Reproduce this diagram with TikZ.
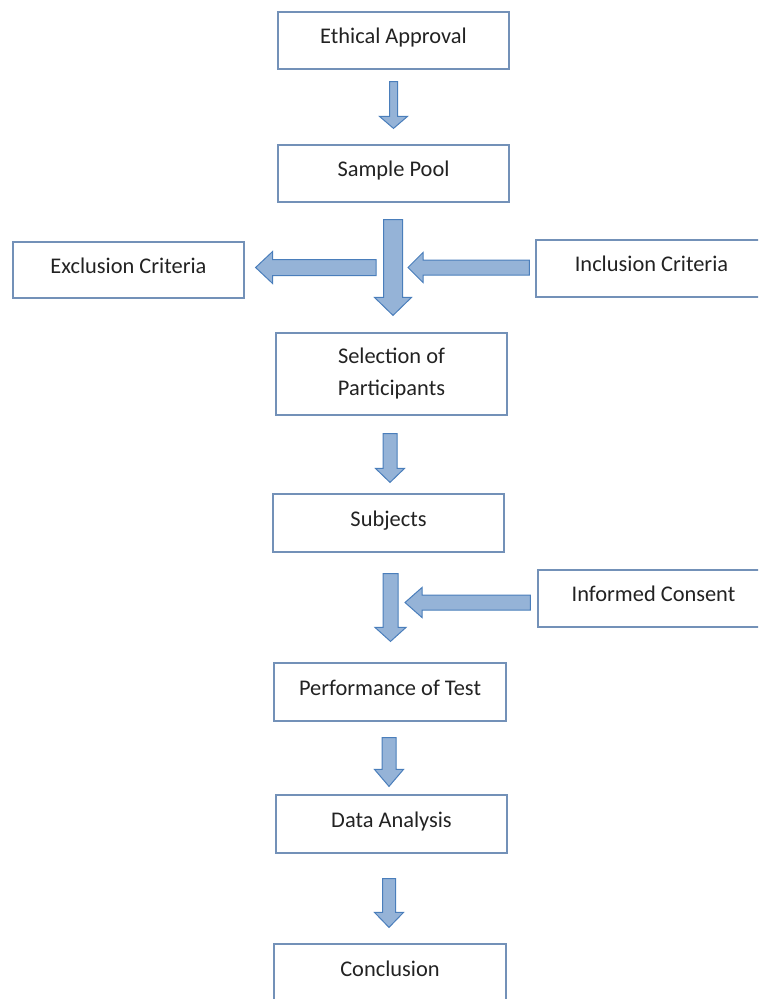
\documentclass[tikz,border=0pt]{standalone}
\usepackage{fontspec}
\setmainfont{Carlito}
\usetikzlibrary{calc}

\definecolor{boxline}{HTML}{7391B8}
\definecolor{arrfill}{HTML}{95B3D7}
\definecolor{arrline}{HTML}{4A7EBB}
\definecolor{txt}{HTML}{222222}

% fat arrow: start, tip, half shaft, half head, head length
\newcommand{\blockarr}[5]{%
  \coordinate (hb) at ($(#2)!#5!(#1)$);
  \draw[blk] ($(#1)!#3!90:(#2)$) -- ($(hb)!#3!90:(#2)$) -- ($(hb)!#4!90:(#2)$)
    -- (#2) -- ($(hb)!#4!-90:(#2)$) -- ($(hb)!#3!-90:(#2)$)
    -- ($(#1)!#3!-90:(#2)$) -- cycle;
}

\begin{document}
\begin{tikzpicture}[x=1pt,y=-1pt,
  box/.style={draw=boxline, line width=1.2pt, minimum width=231pt,
    minimum height=57pt, inner sep=0pt, text=txt,
    font=\fontsize{22.4}{32}\selectfont},
  onebox/.style={box, text height=15pt, text depth=9pt},
  blk/.style={fill=arrfill, draw=arrline, line width=1pt, line join=miter}]
\useasboundingbox (0,0) rectangle (758,999);
\clip (0,0) rectangle (758,999);

\node[onebox] (ea) at (393.5,40.5) {Ethical Approval};
\node[onebox] (sp) at (393.5,173.5) {Sample Pool};
\node[onebox, minimum height=56pt] (ex) at (128.5,270) {Exclusion Criteria};
\node[onebox] (in) at (651.5,268.5) {Inclusion Criteria};
\node[box, minimum height=82pt, align=center] (sel) at (391.5,374)
  {Selection of\\Participants};
\node[onebox, minimum height=58pt] (sub) at (388.5,523) {Subjects};
\node[onebox] (ic) at (653.5,598.5) {Informed Consent};
\node[onebox, minimum height=58pt, minimum width=232pt] (pt) at (390,692)
  {Performance of Test};
\node[onebox, minimum height=58pt] (da) at (391.5,824) {Data Analysis};
\node[onebox, minimum height=58pt, minimum width=232pt] (co) at (390,973)
  {Conclusion};

% arrows between the boxes
\coordinate (a1s) at ($(ea.south)+(0,12)$);
\coordinate (a1e) at ($(a1s |- sp.north)+(0,-16)$);
\blockarr{a1s}{a1e}{4pt}{14pt}{12pt}

\coordinate (a2s) at ($(sp.south)+(-0.5,17)$);
\coordinate (a2e) at ($(a2s |- sel.north)+(0,-17)$);
\blockarr{a2s}{a2e}{9.5pt}{18.5pt}{18pt}

\coordinate (exs) at ($(a2s |- ex.east)+(-17,-2.5)$);
\coordinate (exe) at ($(ex.east)+(11,-2.5)$);
\blockarr{exs}{exe}{8pt}{16pt}{17pt}

\coordinate (ins) at ($(in.west)+(-6,-1)$);
\coordinate (ine) at ($(a2s |- in.west)+(15,-1)$);
\blockarr{ins}{ine}{7.5pt}{15pt}{15pt}

\coordinate (a3s) at ($(sel.south)+(-1.5,18)$);
\coordinate (a3e) at ($(a3s |- sub.north)+(0,-11)$);
\blockarr{a3s}{a3e}{7pt}{14.5pt}{14pt}

\coordinate (a4s) at ($(sub.south)+(2,21)$);
\coordinate (a4e) at ($(a4s |- pt.north)+(0,-21)$);
\blockarr{a4s}{a4e}{7.5pt}{15.5pt}{14pt}

\coordinate (ics) at ($(ic.west)+(-7,4)$);
\coordinate (ice) at ($(a4s |- ic.west)+(14.5,4)$);
\blockarr{ics}{ice}{7.5pt}{15pt}{17pt}

\coordinate (a5s) at ($(pt.south)+(-1,16)$);
\coordinate (a5e) at ($(a5s |- da.north)+(0,-8)$);
\blockarr{a5s}{a5e}{7pt}{14.5pt}{17pt}

\coordinate (a6s) at ($(da.south)+(-2.5,25)$);
\coordinate (a6e) at ($(a6s |- co.north)+(0,-16)$);
\blockarr{a6s}{a6e}{6.5pt}{14.5pt}{15pt}
\end{tikzpicture}
\end{document}
